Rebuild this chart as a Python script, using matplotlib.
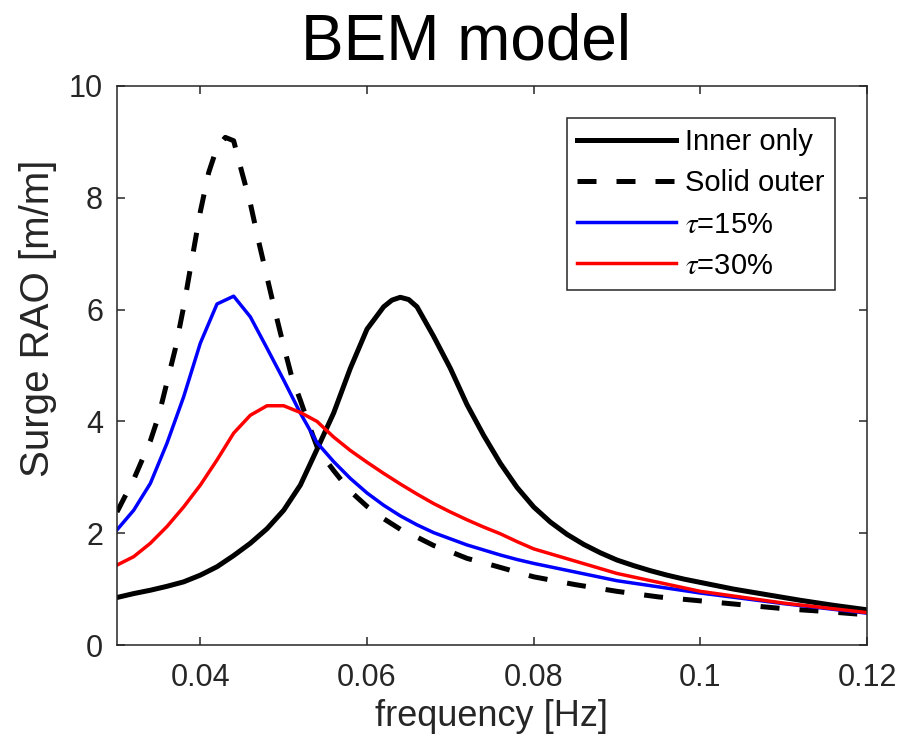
import matplotlib
matplotlib.use("Agg")
import matplotlib.pyplot as plt
from matplotlib.ticker import FormatStrFormatter

plt.rcParams['font.family'] = ['Liberation Sans', 'DejaVu Sans']
plt.rcParams['mathtext.fontset'] = 'stix'

# Inner only (smooth curve)
f_inner = [0.030, 0.032, 0.034, 0.036, 0.038, 0.040, 0.042, 0.044, 0.046, 0.048,
           0.050, 0.052, 0.054, 0.056, 0.058, 0.060, 0.062, 0.063, 0.064, 0.065,
           0.066, 0.068, 0.070, 0.072, 0.074, 0.076, 0.078, 0.080, 0.082, 0.084,
           0.086, 0.088, 0.090, 0.092, 0.094, 0.096, 0.098, 0.100, 0.104, 0.108,
           0.112, 0.116, 0.120]
rao_inner = [0.85, 0.92, 0.98, 1.05, 1.13, 1.25, 1.40, 1.60, 1.82, 2.08,
             2.41, 2.86, 3.50, 4.15, 4.95, 5.65, 6.05, 6.17, 6.22, 6.18,
             6.05, 5.52, 4.95, 4.30, 3.75, 3.25, 2.82, 2.47, 2.20, 1.98,
             1.80, 1.65, 1.52, 1.42, 1.33, 1.25, 1.18, 1.12, 1.00, 0.90,
             0.80, 0.71, 0.63]

# Solid outer
f_solid = [0.030, 0.032, 0.034, 0.035, 0.036, 0.037, 0.038, 0.039, 0.040, 0.041,
           0.042, 0.043, 0.044, 0.045, 0.046, 0.047, 0.048, 0.049, 0.050, 0.051,
           0.052, 0.053, 0.054, 0.055, 0.056, 0.058, 0.060, 0.062, 0.064, 0.066,
           0.068, 0.070, 0.072, 0.075, 0.080, 0.085, 0.090, 0.095, 0.100, 0.105,
           0.110, 0.115, 0.120]
rao_solid = [2.38, 2.96, 3.65, 4.10, 4.70, 5.30, 6.05, 6.90, 7.75, 8.45,
             8.90, 9.08, 9.02, 8.45, 7.90, 7.22, 6.58, 5.95, 5.35, 4.78,
             4.38, 3.95, 3.55, 3.32, 3.12, 2.75, 2.48, 2.26, 2.07, 1.93,
             1.78, 1.67, 1.55, 1.43, 1.22, 1.08, 0.96, 0.86, 0.79, 0.72,
             0.65, 0.60, 0.54]

# porous outer, tau = 15% and 30% (coarser frequency grid)
f_por = [0.030, 0.032, 0.034, 0.036, 0.038, 0.040, 0.042, 0.044, 0.046, 0.048,
         0.050, 0.052, 0.054, 0.056, 0.058, 0.060, 0.062, 0.064, 0.066, 0.068,
         0.070, 0.072, 0.074, 0.076, 0.078, 0.080, 0.090, 0.100, 0.110, 0.120]
rao_tau15 = [2.06, 2.41, 2.89, 3.61, 4.44, 5.40, 6.10, 6.24, 5.87, 5.31,
             4.74, 4.15, 3.62, 3.28, 2.98, 2.72, 2.50, 2.31, 2.15, 2.01,
             1.90, 1.79, 1.70, 1.61, 1.53, 1.46, 1.15, 0.93, 0.74, 0.57]
rao_tau30 = [1.43, 1.58, 1.82, 2.12, 2.47, 2.86, 3.31, 3.79, 4.11, 4.28,
             4.28, 4.16, 4.00, 3.72, 3.48, 3.27, 3.07, 2.88, 2.70, 2.53,
             2.38, 2.24, 2.11, 1.99, 1.85, 1.72, 1.28, 0.96, 0.75, 0.58]

x_ticks = [0.04, 0.06, 0.08, 0.10, 0.12]
y_ticks = [0, 2, 4, 6, 8, 10]

axcol = '#262626'

fig = plt.figure(figsize=(9.02, 7.45), dpi=100)
ax = fig.add_axes([0.1297, 0.1342, 0.8315, 0.7504])

ax.plot(f_inner, rao_inner, color='k', lw=3.6, label='Inner only')
ax.plot(f_solid, rao_solid, color='k', lw=3.6, linestyle=(0, (3.8, 4.0)),
        label='Solid outer')
ax.plot(f_por, rao_tau15, color='#0000ff', lw=2.5, label=r'$\tau$=15%')
ax.plot(f_por, rao_tau30, color='#ff0000', lw=2.5, label=r'$\tau$=30%')

ax.set_xlim(0.03, 0.12)
ax.set_ylim(0, 10)
ax.set_xticks(x_ticks)
ax.set_yticks(y_ticks)
ax.xaxis.set_major_formatter(FormatStrFormatter('%g'))

for s in ax.spines.values():
    s.set_color(axcol)
    s.set_linewidth(1.1)
ax.tick_params(axis='both', direction='in', length=5.5, width=1.1, color=axcol,
               labelcolor=axcol, labelsize=22, top=True, right=True)
ax.tick_params(axis='x', pad=13)
ax.tick_params(axis='y', pad=10)

ax.set_xlabel('frequency [Hz]', fontsize=26, color=axcol, labelpad=4)
ax.set_ylabel('Surge RAO [m/m]', fontsize=29, color=axcol)
ax.yaxis.set_label_coords(-0.080, 0.585)
ax.set_title('BEM model', fontsize=46, pad=19, x=0.465)

leg = ax.legend(loc='upper right', fontsize=21, frameon=True, fancybox=False,
                edgecolor=axcol, framealpha=1, handlelength=3.4,
                handletextpad=0.3, labelspacing=0.45, borderpad=0.35,
                borderaxespad=1.1)
leg.get_frame().set_linewidth(1.1)

fig.savefig('out.png', dpi=100)
